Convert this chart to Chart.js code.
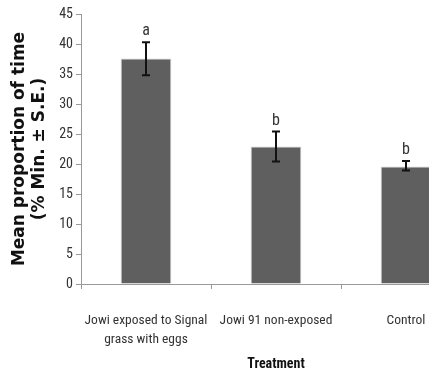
<!DOCTYPE html>
<html>
<head>
<meta charset="utf-8">
<script src="https://cdn.jsdelivr.net/npm/chart.js@4.4.0/dist/chart.umd.min.js"></script>
<style>
html,body{margin:0;padding:0;overflow:hidden;background:#fff;width:429px;height:383px;}
#wrap{position:absolute;left:0;top:0;width:480px;height:383px;}
</style>
</head>
<body>
<div id="wrap"><canvas id="c" width="480" height="383"></canvas></div>
<script>
const categories = [["Jowi exposed to Signal", "grass with eggs"], "Jowi 91 non-exposed", "Control"];
const means = [37.6, 22.9, 19.6];
const errUpper = [40.3, 25.4, 20.5];
const errLower = [34.8, 20.4, 18.9];
const letters = ["a", "b", "b"];
const yTicks = [0, 5, 10, 15, 20, 25, 30, 35, 40, 45];

const narrow = "'Roboto Condensed', 'Open Sans Condensed', sans-serif";

const extras = {
  id: 'extras',
  afterDatasetsDraw(chart) {
    const ctx = chart.ctx;
    const x = chart.scales.x, y = chart.scales.y;
    ctx.save();
    means.forEach((m, i) => {
      const cx = x.getPixelForValue(i);
      const yt = y.getPixelForValue(errUpper[i]);
      const yb = y.getPixelForValue(errLower[i]);
      ctx.strokeStyle = '#111';
      ctx.lineWidth = 2;
      ctx.beginPath();
      ctx.moveTo(cx, yt); ctx.lineTo(cx, yb);
      ctx.moveTo(cx - 4, yt); ctx.lineTo(cx + 4, yt);
      ctx.moveTo(cx - 4, yb); ctx.lineTo(cx + 4, yb);
      ctx.stroke();
      ctx.fillStyle = '#333';
      ctx.font = "16px " + narrow;
      ctx.textAlign = 'center';
      ctx.textBaseline = 'alphabetic';
      ctx.fillText(letters[i], cx, yt - 7);
    });
    ctx.restore();
  }
};

new Chart(document.getElementById('c'), {
  type: 'bar',
  data: {
    labels: categories,
    datasets: [{
      data: means,
      backgroundColor: '#5f5f5f',
      borderColor: '#cfcfcf',
      borderWidth: 1,
      categoryPercentage: 1,
      barPercentage: 0.39
    }]
  },
  options: {
    responsive: false,
    animation: false,
    events: [],
    layout: { padding: { top: 14, right: 9, left: 0, bottom: 0 } },
    plugins: { legend: { display: false }, tooltip: { enabled: false } },
    scales: {
      y: {
        min: 0, max: 45,
        afterFit: s => { s.width = 81; },
        afterBuildTicks: s => { s.ticks = yTicks.map(v => ({ value: v })); },
        border: { display: true, color: '#999', width: 1 },
        grid: { drawOnChartArea: false, drawTicks: true, tickLength: 5, color: '#999' },
        ticks: { color: '#333', font: { family: narrow, size: 14 }, padding: 3 },
        title: {
          display: true,
          text: ["Mean proportion of time", "(% Min. \u00b1 S.E.)"],
          color: '#111',
          font: { family: "'DejaVu Sans', Verdana, sans-serif", size: 17, weight: 'bold', lineHeight: 1.2 },
          padding: { top: 9, bottom: 0 }
        }
      },
      x: {
        afterFit: s => { s.height = 99; },
        border: { display: true, color: '#999', width: 1 },
        grid: { drawOnChartArea: false, drawTicks: true, tickLength: 5, color: '#999', offset: true },
        ticks: { color: '#333', font: { family: narrow, size: 13.5, lineHeight: 1.4 }, padding: 22, maxRotation: 0, autoSkip: false },
        title: {
          display: true,
          text: "Treatment",
          color: '#111',
          font: { family: narrow, size: 14, weight: 'bold' },
          padding: { top: 0, bottom: 10 }
        }
      }
    }
  },
  plugins: [extras]
});
</script>
</body>
</html>
